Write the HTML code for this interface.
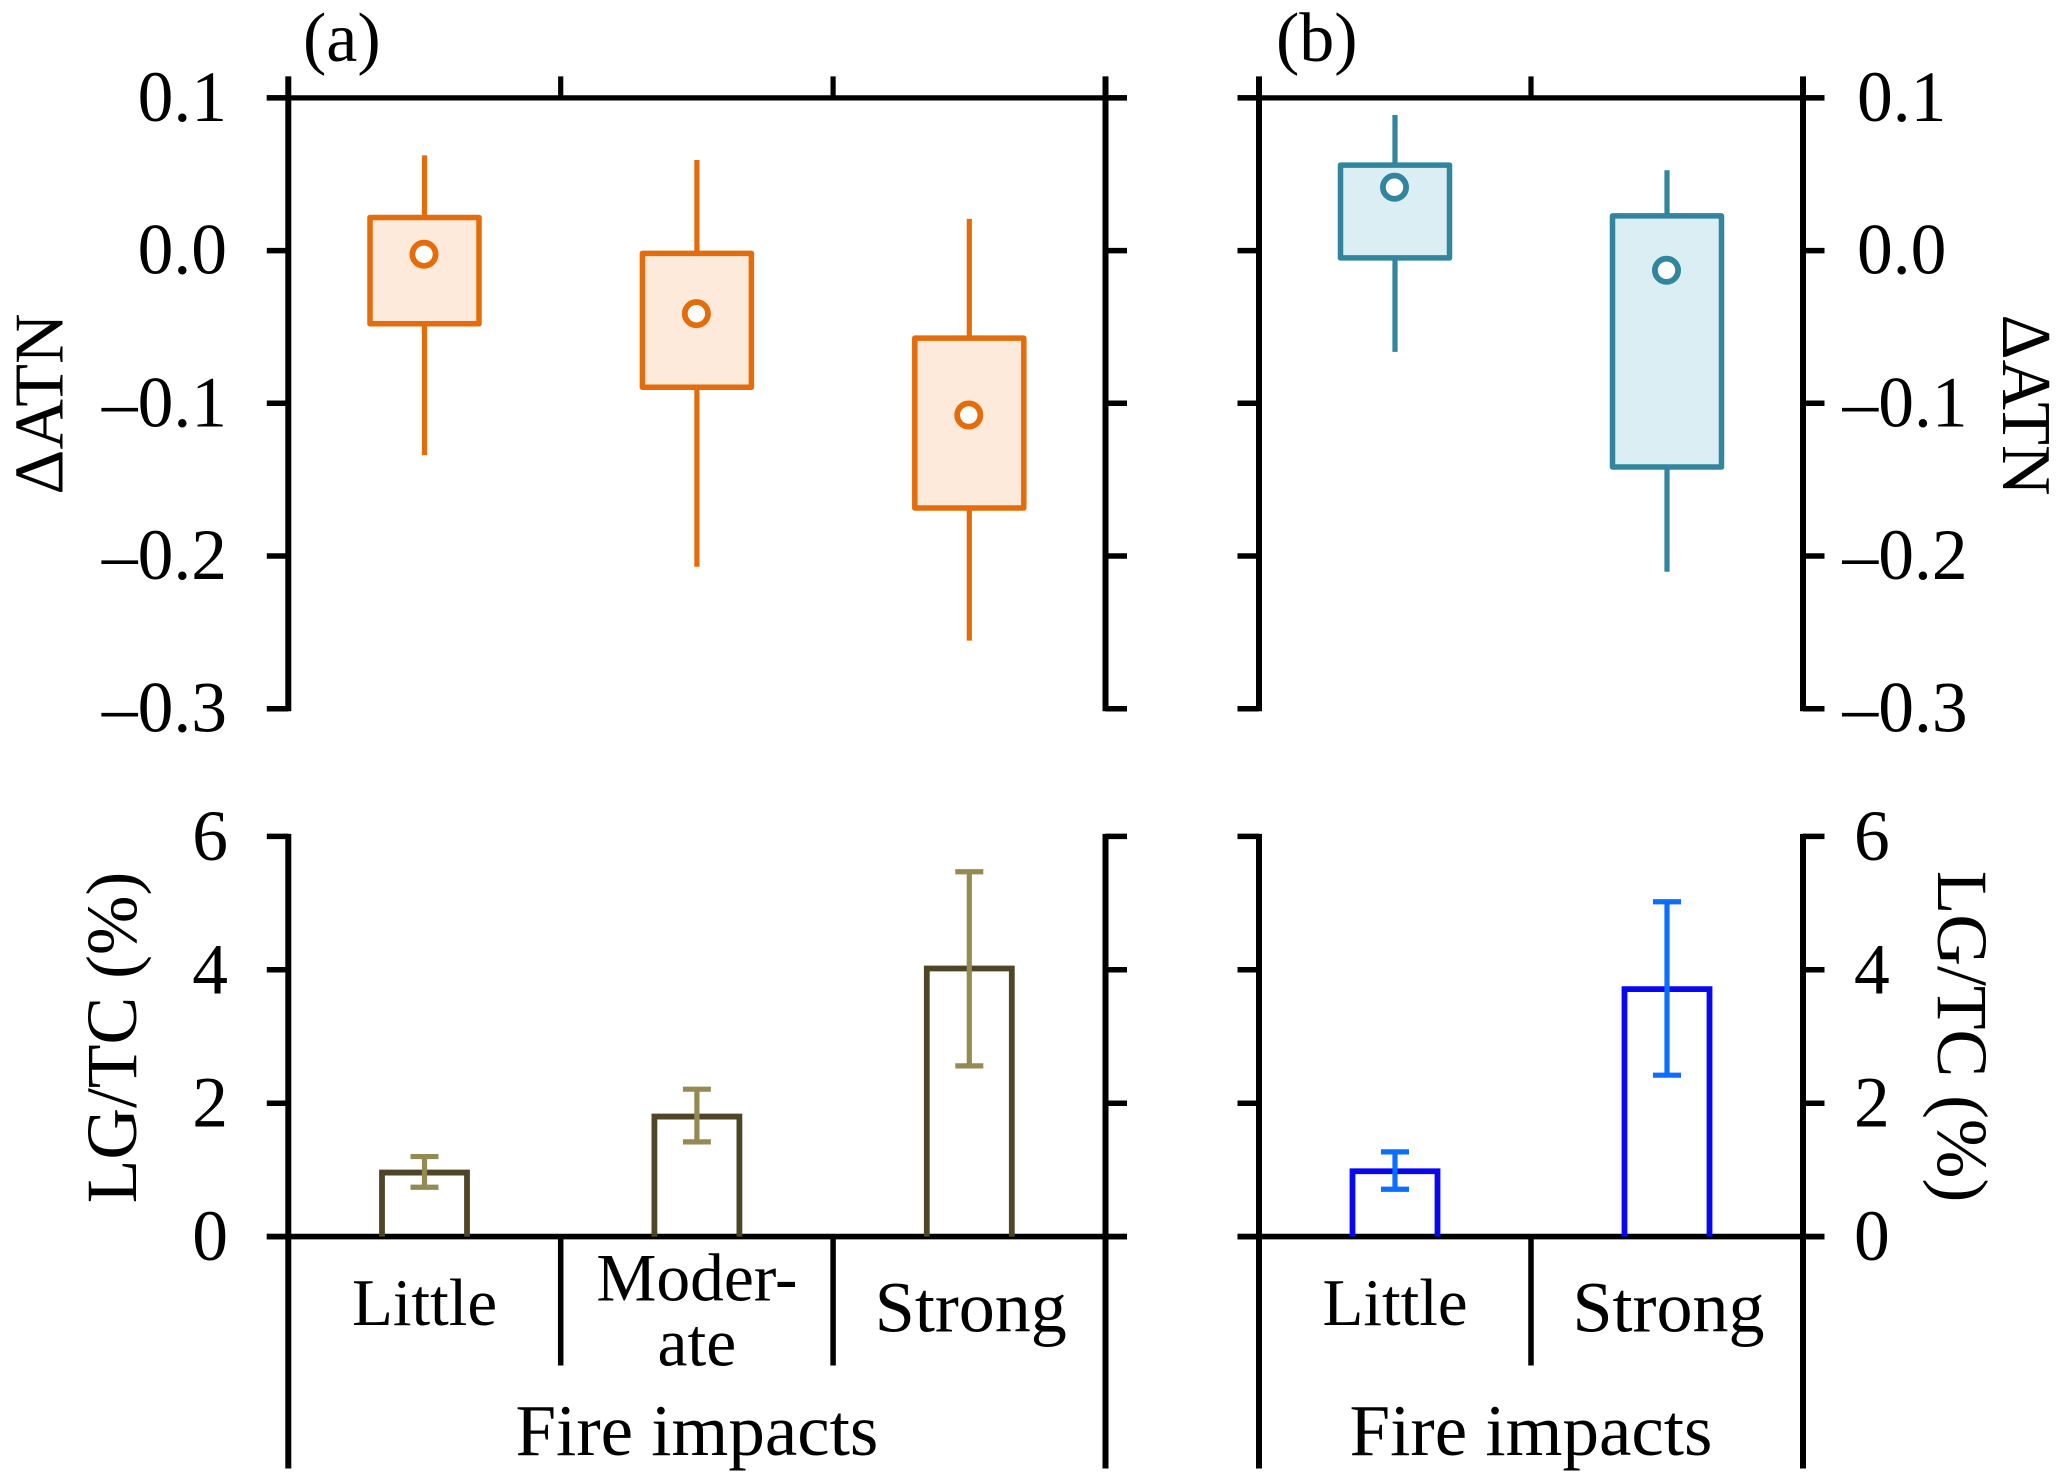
<!DOCTYPE html>
<html lang="en">
<head>
<meta charset="utf-8">
<title>ATN and LG/TC by fire impact</title>
<style>
html,body{margin:0;padding:0;background:#fff;}
svg{display:block;width:2067px;height:1482px;}
text{font-family:"Liberation Serif","DejaVu Serif",serif;fill:#000;}
</style>
</head>
<body>
<svg id="chart" xmlns="http://www.w3.org/2000/svg" width="2067" height="1482" viewBox="0 0 2067 1482">
  <rect x="0" y="0" width="2067" height="1482" fill="#ffffff"/>
</svg>
<script>
// ---- data ----
const categoriesA = ['Little', 'Moderate', 'Strong'];
const categoriesB = ['Little', 'Strong'];
const categoryLabelsA = [['Little'], ['Moder-', 'ate'], ['Strong']];
const categoryLabelsB = [['Little'], ['Strong']];

const atnTicks = [0.1, 0, -0.1, -0.2, -0.3];
const atnTickLabels = ['0.1', '0.0', '–0.1', '–0.2', '–0.3'];
const lgTicks = [0, 2, 4, 6];
const lgTickLabels = ['0', '2', '4', '6'];

const atnHighA = [0.0624, 0.0593, 0.0208];
const atnQ3A = [0.0217, -0.0018, -0.0573];
const atnMeanA = [-0.0024, -0.0413, -0.1077];
const atnQ1A = [-0.0479, -0.0895, -0.1686];
const atnLowA = [-0.1339, -0.207, -0.2554];

const atnHighB = [0.0888, 0.0526];
const atnQ3B = [0.056, 0.0227];
const atnMeanB = [0.0415, -0.0129];
const atnQ1B = [-0.0048, -0.1417];
const atnLowB = [-0.0663, -0.2103];

const lgValueA = [0.96, 1.8, 4.02];
const lgUpperA = [1.2, 2.21, 5.47];
const lgLowerA = [0.74, 1.42, 2.56];

const lgValueB = [0.98, 3.71];
const lgUpperB = [1.27, 5.02];
const lgLowerB = [0.71, 2.42];

// ---- axis functions ----
const SVGNS = 'http://www.w3.org/2000/svg';
const root = document.getElementById('chart');
const panelAX = { left: 288.3, right: 1105.5 };
const panelBX = { left: 1259, right: 1803 };
function yAtn(v) { return 250.6 - v * 1527; }
function yLg(v) { return 1236.6 - v * 66.7; }
function bandEdge(panel, count, i) { return panel.left + (panel.right - panel.left) * i / count; }
function bandCenter(panel, count, i) { return bandEdge(panel, count, i + 0.5); }

function makeGroup(parent, name) {
  const g = document.createElementNS(SVGNS, 'g');
  
  
  parent.appendChild(g);
  return g;
}
function makeLine(parent, name, x1, y1, x2, y2, color, width) {
  const l = document.createElementNS(SVGNS, 'line');
  
  
  l.setAttribute('x1', x1);
  l.setAttribute('y1', y1);
  l.setAttribute('x2', x2);
  l.setAttribute('y2', y2);
  l.setAttribute('stroke', color);
  l.setAttribute('stroke-width', width);
  parent.appendChild(l);
  return l;
}
function makeText(parent, name, str, x, y, size, anchor, rotate) {
  const t = document.createElementNS(SVGNS, 'text');
  
  
  t.setAttribute('x', x);
  t.setAttribute('y', y);
  t.setAttribute('font-size', size);
  t.setAttribute('text-anchor', anchor);
  if (rotate) t.setAttribute('transform', 'rotate(' + rotate + ' ' + x + ' ' + y + ')');
  t.textContent = str;
  parent.appendChild(t);
  return t;
}

// ---- frames ----
const TICK = 21.5;
const AXW = 6;
function drawTopFrame(panel, count, tag) {
  const g = makeGroup(root, 'atn-axes-' + tag);
  const yBottom = yAtn(atnTicks[atnTicks.length - 1]);
  const yTop = yAtn(atnTicks[0]);
  makeLine(g, 'atn-top-axis-' + tag, panel.left - TICK, yTop, panel.right + TICK, yTop, '#000', 5.2);
  makeLine(g, 'atn-left-axis-' + tag, panel.left, yTop - 21.5, panel.left, yBottom + 2.5, '#000', AXW);
  makeLine(g, 'atn-right-axis-' + tag, panel.right, yTop - 21.5, panel.right, yBottom + 2.5, '#000', AXW);
  for (let i = 1; i < count; i++) {
    const x = bandEdge(panel, count, i);
    makeLine(g, 'atn-top-tick-' + tag, x, yTop - 21.5, x, yTop, '#000', 5.2);
  }
  atnTicks.forEach(function (v) {
    makeLine(g, 'atn-left-tick-' + tag, panel.left - TICK, yAtn(v), panel.left, yAtn(v), '#000', 5.5);
    makeLine(g, 'atn-right-tick-' + tag, panel.right, yAtn(v), panel.right + TICK, yAtn(v), '#000', 5.5);
  });
}
function drawBottomFrame(panel, count, tag) {
  const g = makeGroup(root, 'lg-axes-' + tag);
  const y0 = yLg(lgTicks[0]);
  const yMax = yLg(lgTicks[lgTicks.length - 1]);
  makeLine(g, 'lg-left-axis-' + tag, panel.left, yMax - 2.5, panel.left, 1468.5, '#000', AXW);
  makeLine(g, 'lg-right-axis-' + tag, panel.right, yMax - 2.5, panel.right, 1468.5, '#000', AXW);
  lgTicks.forEach(function (v) {
    makeLine(g, 'lg-left-tick-' + tag, panel.left - TICK, yLg(v), panel.left, yLg(v), '#000', 5.5);
    makeLine(g, 'lg-right-tick-' + tag, panel.right, yLg(v), panel.right + TICK, yLg(v), '#000', 5.5);
  });
  makeLine(g, 'lg-baseline-' + tag, panel.left - TICK, y0, panel.right + TICK, y0, '#000', 5.6);
  for (let i = 1; i < count; i++) {
    const x = bandEdge(panel, count, i);
    makeLine(g, 'category-divider-' + tag, x, y0, x, 1365.5, '#000', 5.5);
  }
}

// ---- series ----
function drawBoxes(panel, high, q3, mean, q1, low, stroke, fill, tag) {
  const g = makeGroup(root, 'atn-boxes-' + tag);
  const HALF = 54.5;
  high.forEach(function (_, i) {
    const cx = bandCenter(panel, high.length, i);
    makeLine(g, 'atn-whisker-high-' + tag, cx, yAtn(q3[i]), cx, yAtn(high[i]), stroke, 5.2);
    makeLine(g, 'atn-whisker-low-' + tag, cx, yAtn(q1[i]), cx, yAtn(low[i]), stroke, 5.2);
    const r = document.createElementNS(SVGNS, 'rect');
    
    
    r.setAttribute('x', cx - HALF);
    r.setAttribute('y', yAtn(q3[i]));
    r.setAttribute('width', HALF * 2);
    r.setAttribute('height', yAtn(q1[i]) - yAtn(q3[i]));
    r.setAttribute('fill', fill);
    r.setAttribute('stroke', stroke);
    r.setAttribute('stroke-width', 5.5);
    r.setAttribute('stroke-linejoin', 'round');
    g.appendChild(r);
    const c = document.createElementNS(SVGNS, 'circle');
    
    
    c.setAttribute('cx', cx - 0.5);
    c.setAttribute('cy', yAtn(mean[i]));
    c.setAttribute('r', 11.6);
    c.setAttribute('fill', '#ffffff');
    c.setAttribute('stroke', stroke);
    c.setAttribute('stroke-width', 5.8);
    g.appendChild(c);
  });
}
function drawBars(panel, value, upper, lower, stroke, errColor, tag) {
  const g = makeGroup(root, 'lg-bars-' + tag);
  const HALF = 42.5;
  const CAP = 14;
  value.forEach(function (_, i) {
    const cx = bandCenter(panel, value.length, i);
    const p = document.createElementNS(SVGNS, 'path');
    
    
    p.setAttribute('d', 'M' + (cx - HALF) + ' ' + yLg(0) + 'V' + yLg(value[i]) + 'H' + (cx + HALF) + 'V' + yLg(0));
    p.setAttribute('fill', 'none');
    p.setAttribute('stroke', stroke);
    p.setAttribute('stroke-width', 5.8);
    g.appendChild(p);
    makeLine(g, 'lg-error-stem-' + tag, cx, yLg(upper[i]), cx, yLg(lower[i]), errColor, 5.2);
    makeLine(g, 'lg-error-cap-upper-' + tag, cx - CAP, yLg(upper[i]), cx + CAP, yLg(upper[i]), errColor, 5.2);
    makeLine(g, 'lg-error-cap-lower-' + tag, cx - CAP, yLg(lower[i]), cx + CAP, yLg(lower[i]), errColor, 5.2);
  });
}

// ---- labels ----
function drawCategoryLabels(panel, labels, tag) {
  const g = makeGroup(root, 'category-labels-' + tag);
  labels.forEach(function (lines, i) {
    const cx = bandCenter(panel, labels.length, i);
    if (lines.length === 2) {
      makeText(g, 'category-label-' + tag, lines[0], cx, 1300.5, 67.5, 'middle');
      makeText(g, 'category-label-' + tag, lines[1], cx, 1365.5, 67.5, 'middle');
    } else if (lines[0] === 'Strong') {
      makeText(g, 'category-label-' + tag, lines[0], cx + 1.5, 1331.5, 72, 'middle');
    } else {
      makeText(g, 'category-label-' + tag, lines[0], cx, 1325, 67, 'middle');
    }
  });
  makeText(g, 'x-axis-title-' + tag, 'Fire impacts', (panel.left + panel.right) / 2, 1455, 73, 'middle');
}
function drawTickLabels() {
  const g = makeGroup(root, 'tick-labels');
  atnTicks.forEach(function (v, i) {
    const s = atnTickLabels[i];
    makeText(g, 'atn-tick-label-left', s, 227, yAtn(v) + 23, 71.5, 'end');
    makeText(g, 'atn-tick-label-right', s, v < 0 ? 1842.5 : 1857, yAtn(v) + 23, 71.5, 'start');
  });
  lgTicks.forEach(function (v, i) {
    const s = lgTickLabels[i];
    makeText(g, 'lg-tick-label-left', s, 228, yLg(v) + 23.5, 71.5, 'end');
    makeText(g, 'lg-tick-label-right', s, 1854, yLg(v) + 23.5, 71.5, 'start');
  });
}

drawTopFrame(panelAX, categoriesA.length, 'a');
drawTopFrame(panelBX, categoriesB.length, 'b');
drawBottomFrame(panelAX, categoriesA.length, 'a');
drawBottomFrame(panelBX, categoriesB.length, 'b');
drawBoxes(panelAX, atnHighA, atnQ3A, atnMeanA, atnQ1A, atnLowA, '#e46c0a', '#fdeada', 'a');
drawBoxes(panelBX, atnHighB, atnQ3B, atnMeanB, atnQ1B, atnLowB, '#31859c', '#dbeef4', 'b');
drawBars(panelAX, lgValueA, lgUpperA, lgLowerA, '#4f4628', '#948a54', 'a');
drawBars(panelBX, lgValueB, lgUpperB, lgLowerB, '#0808f0', '#0a6eff', 'b');
drawCategoryLabels(panelAX, categoryLabelsA, 'a');
drawCategoryLabels(panelBX, categoryLabelsB, 'b');
drawTickLabels();

const titles = makeGroup(root, 'titles');
makeText(titles, 'panel-label-a', '(a)', 303, 61, 70, 'start');
makeText(titles, 'panel-label-b', '(b)', 1276, 61, 70, 'start');
makeText(titles, 'atn-y-title-left', 'ΔATN', 62.5, 404, 70, 'middle', -90);
makeText(titles, 'atn-y-title-right', 'ΔATN', 2003, 405, 70, 'middle', 90);
makeText(titles, 'lg-y-title-left', 'LG/TC (%)', 136, 1037.5, 71.5, 'middle', -90);
makeText(titles, 'lg-y-title-right', 'LG/TC (%)', 1938, 1036.5, 71.5, 'middle', 90);
</script>
</body>
</html>
